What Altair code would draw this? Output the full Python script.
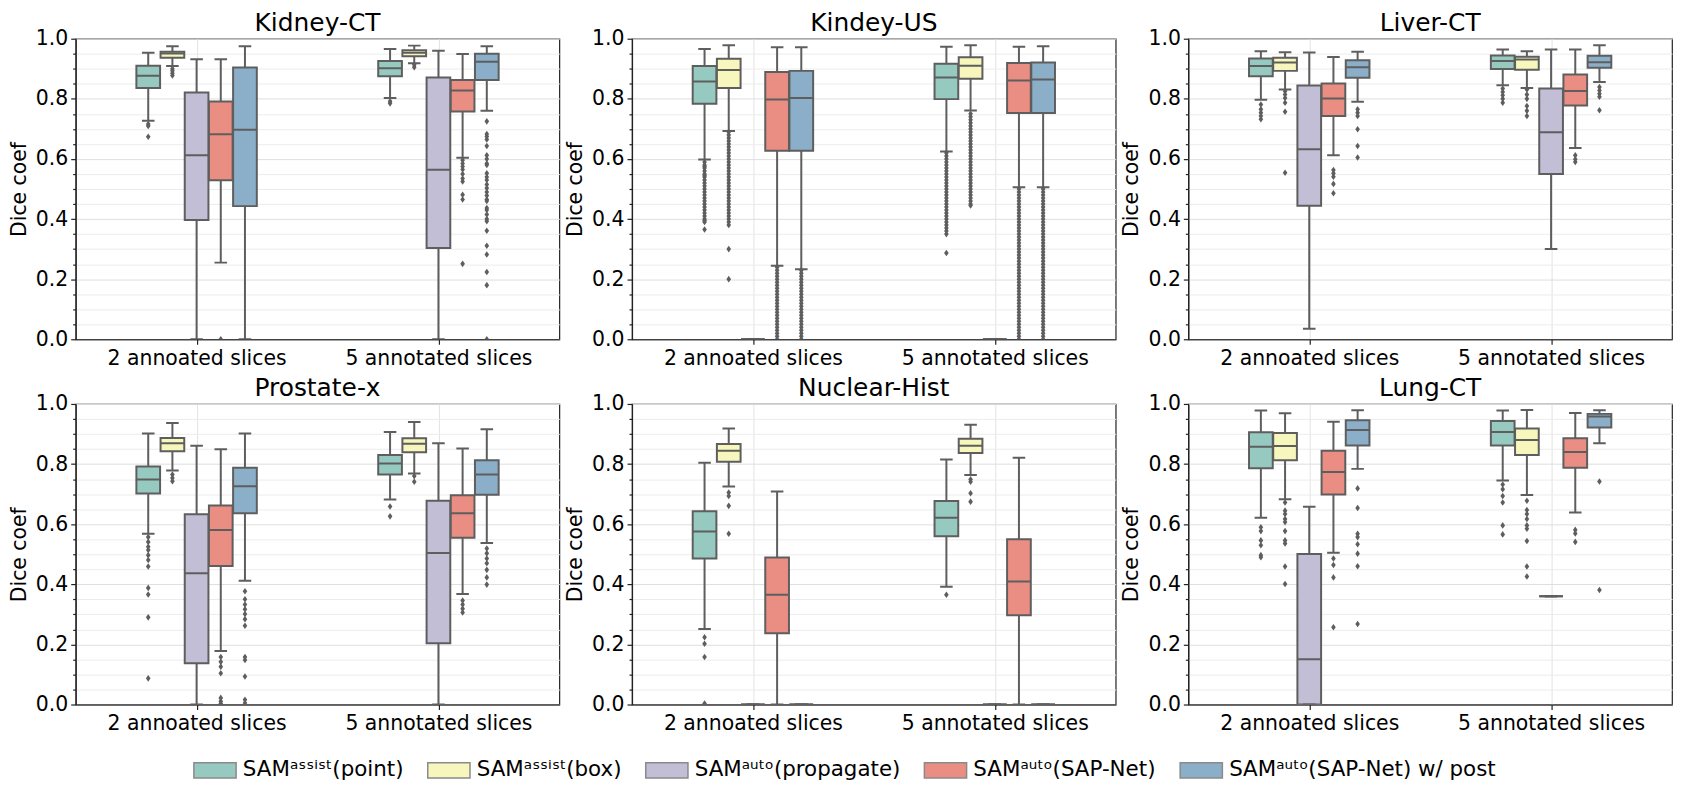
import altair as alt
import pandas as pd

# ---------------- data ----------------
DATASETS = ["Kidney-CT", "Kindey-US", "Liver-CT", "Prostate-x", "Nuclear-Hist", "Lung-CT"]
GROUPS = ["2 annoated slices", "5 annotated slices"]
METHODS = ["SAMᵃˢˢⁱˢᵗ(point)", "SAMᵃˢˢⁱˢᵗ(box)", "SAMᵃᵘᵗᵒ(propagate)",
           "SAMᵃᵘᵗᵒ(SAP-Net)", "SAMᵃᵘᵗᵒ(SAP-Net) w/ post"]
COLORS = ["#96cac1", "#f6f6bd", "#c1bed6", "#ea8e83", "#8bafc9"]

# (lower whisker, q1, median, q3, upper whisker): group 0 methods 0..4, then group 1 methods 0..4
KIDNEY_CT_STATS = [
    (0.727, 0.836, 0.877, 0.910, 0.953),
    (0.909, 0.937, 0.951, 0.957, 0.975),
    (0.0, 0.397, 0.612, 0.821, 0.932),
    (0.255, 0.529, 0.682, 0.791, 0.932),
    (0.0, 0.443, 0.697, 0.904, 0.975),
    (0.803, 0.875, 0.902, 0.926, 0.966),
    (0.918, 0.942, 0.953, 0.962, 0.977),
    (0.0, 0.304, 0.564, 0.871, 0.960),
    (0.604, 0.758, 0.828, 0.863, 0.949),
    (0.760, 0.863, 0.923, 0.950, 0.975),
]
KIDNEY_CT_OUT = [
    [0.716, 0.71, 0.674],
    [0.90, 0.893, 0.885, 0.878],
    [],
    [0.0],
    [],
    [0.792, 0.785],
    [0.913, 0.905],
    [],
    [0.596, 0.585, 0.575, 0.565, 0.55, 0.535, 0.525, 0.481, 0.465, 0.251],
    [0.725, 0.683, 0.675, 0.665, 0.643, 0.612, 0.60, 0.585, 0.58, 0.552, 0.54, 0.53, 0.515,
     0.503, 0.49, 0.478, 0.465, 0.46, 0.437, 0.43, 0.415, 0.40, 0.393, 0.361, 0.311, 0.282,
     0.224, 0.18, 0.0],
]

KINDEY_US_STATS = [
    (0.598, 0.784, 0.858, 0.909, 0.966),
    (0.693, 0.836, 0.896, 0.933, 0.978),
    (0.0, 0.0, 0.0, 0.0, 0.0),
    (0.245, 0.627, 0.798, 0.889, 0.972),
    (0.233, 0.627, 0.803, 0.893, 0.972),
    (0.625, 0.799, 0.871, 0.917, 0.973),
    (0.761, 0.867, 0.910, 0.938, 0.978),
    (0.0, 0.0, 0.0, 0.0, 0.0),
    (0.506, 0.753, 0.861, 0.919, 0.973),
    (0.506, 0.753, 0.864, 0.921, 0.975),
]
KINDEY_US_OUT = [
    [0.59, 0.58, 0.575, 0.57, 0.56, 0.55, 0.545, 0.54, 0.53, 0.52, 0.51, 0.50, 0.49, 0.48,
     0.47, 0.46, 0.45, 0.44, 0.43, 0.42, 0.41, 0.40, 0.395, 0.39, 0.365],
    [0.69, 0.68, 0.67, 0.66, 0.65, 0.64, 0.63, 0.62, 0.61, 0.60, 0.59, 0.58, 0.57, 0.56,
     0.55, 0.54, 0.53, 0.52, 0.51, 0.50, 0.49, 0.48, 0.47, 0.46, 0.45, 0.44, 0.43, 0.42,
     0.41, 0.40, 0.39, 0.38, 0.30, 0.20],
    [],
    [0.24, 0.23, 0.22, 0.21, 0.20, 0.19, 0.18, 0.17, 0.16, 0.15, 0.14, 0.13, 0.12, 0.11,
     0.10, 0.09, 0.08, 0.07, 0.06, 0.05, 0.04, 0.03, 0.02, 0.01, 0.0],
    [0.23, 0.22, 0.21, 0.20, 0.19, 0.18, 0.17, 0.16, 0.15, 0.14, 0.13, 0.12, 0.11, 0.10,
     0.09, 0.08, 0.07, 0.06, 0.05, 0.04, 0.03, 0.02, 0.01, 0.0],
    [0.62, 0.61, 0.60, 0.59, 0.58, 0.57, 0.56, 0.55, 0.54, 0.53, 0.52, 0.51, 0.50, 0.49,
     0.48, 0.47, 0.46, 0.45, 0.44, 0.43, 0.42, 0.41, 0.40, 0.39, 0.38, 0.37, 0.36, 0.35,
     0.287],
    [0.75, 0.74, 0.73, 0.72, 0.71, 0.70, 0.69, 0.68, 0.67, 0.66, 0.65, 0.64, 0.63, 0.62,
     0.61, 0.60, 0.59, 0.58, 0.57, 0.56, 0.55, 0.54, 0.53, 0.52, 0.51, 0.50, 0.49, 0.48,
     0.47, 0.46, 0.45, 0.445],
    [],
    [0.50, 0.49, 0.48, 0.47, 0.46, 0.45, 0.44, 0.43, 0.42, 0.41, 0.40, 0.39, 0.38, 0.37,
     0.36, 0.35, 0.34, 0.33, 0.32, 0.31, 0.30, 0.29, 0.28, 0.27, 0.26, 0.25, 0.24, 0.23,
     0.22, 0.21, 0.20, 0.19, 0.18, 0.17, 0.16, 0.15, 0.14, 0.13, 0.12, 0.11, 0.10, 0.09,
     0.08, 0.07, 0.06, 0.05, 0.04, 0.03, 0.02, 0.01, 0.0],
    [0.50, 0.49, 0.48, 0.47, 0.46, 0.45, 0.44, 0.43, 0.42, 0.41, 0.40, 0.39, 0.38, 0.37,
     0.36, 0.35, 0.34, 0.33, 0.32, 0.31, 0.30, 0.29, 0.28, 0.27, 0.26, 0.25, 0.24, 0.23,
     0.22, 0.21, 0.20, 0.19, 0.18, 0.17, 0.16, 0.15, 0.14, 0.13, 0.12, 0.11, 0.10, 0.09,
     0.08, 0.07, 0.06, 0.05, 0.04, 0.03, 0.02, 0.01, 0.0],
]

LIVER_CT_STATS = [
    (0.797, 0.875, 0.909, 0.934, 0.958),
    (0.831, 0.893, 0.921, 0.937, 0.955),
    (0.035, 0.444, 0.632, 0.844, 0.954),
    (0.612, 0.743, 0.801, 0.851, 0.939),
    (0.790, 0.870, 0.905, 0.928, 0.957),
    (0.845, 0.899, 0.926, 0.944, 0.964),
    (0.836, 0.897, 0.931, 0.940, 0.958),
    (0.300, 0.550, 0.689, 0.834, 0.964),
    (0.636, 0.778, 0.826, 0.881, 0.964),
    (0.856, 0.903, 0.922, 0.943, 0.978),
]
LIVER_CT_OUT = [
    [0.781, 0.765, 0.754, 0.743, 0.732],
    [0.825, 0.814, 0.803, 0.787, 0.757, 0.554],
    [],
    [0.563, 0.552, 0.541, 0.517, 0.486],
    [0.765, 0.754, 0.743, 0.699, 0.643, 0.605],
    [0.834, 0.823, 0.812, 0.80, 0.787],
    [0.831, 0.814, 0.80, 0.776, 0.76, 0.743],
    [],
    [0.612, 0.599, 0.59],
    [0.839, 0.828, 0.817, 0.807, 0.762],
]

PROSTATE_X_STATS = [
    (0.568, 0.702, 0.749, 0.792, 0.902),
    (0.779, 0.843, 0.869, 0.887, 0.937),
    (0.0, 0.137, 0.437, 0.633, 0.861),
    (0.178, 0.461, 0.581, 0.662, 0.849),
    (0.412, 0.636, 0.726, 0.788, 0.902),
    (0.682, 0.765, 0.802, 0.830, 0.907),
    (0.769, 0.839, 0.868, 0.886, 0.940),
    (0.0, 0.204, 0.504, 0.678, 0.869),
    (0.368, 0.555, 0.636, 0.696, 0.852),
    (0.537, 0.698, 0.765, 0.813, 0.916),
]
PROSTATE_X_OUT = [
    [0.557, 0.541, 0.525, 0.514, 0.497, 0.481, 0.459, 0.388, 0.366, 0.29, 0.087],
    [0.765, 0.754, 0.743],
    [],
    [0.158, 0.142, 0.126, 0.104, 0.022, 0.011, 0.003],
    [0.377, 0.35, 0.333, 0.317, 0.301, 0.284, 0.262, 0.158, 0.148, 0.093, 0.016, 0.005],
    [0.659, 0.626],
    [0.76, 0.741],
    [],
    [0.346, 0.333, 0.319, 0.306],
    [0.519, 0.503, 0.486, 0.47, 0.448, 0.423, 0.399],
]

NUCLEAR_HIST_STATS = [
    (0.251, 0.486, 0.576, 0.643, 0.804),
    (0.725, 0.808, 0.844, 0.867, 0.918),
    (0.0, 0.0, 0.0, 0.0, 0.0),
    (0.0, 0.237, 0.365, 0.489, 0.709),
    (0.0, 0.0, 0.0, 0.0, 0.0),
    (0.392, 0.560, 0.621, 0.677, 0.815),
    (0.764, 0.837, 0.861, 0.884, 0.931),
    (0.0, 0.0, 0.0, 0.0, 0.0),
    (0.0, 0.297, 0.409, 0.550, 0.821),
    (0.0, 0.0, 0.0, 0.0, 0.0),
]
NUCLEAR_HIST_OUT = [
    [0.224, 0.202, 0.158, 0.003],
    [0.705, 0.694, 0.661, 0.568],
    [], [], [],
    [0.365],
    [0.749, 0.741, 0.703, 0.675],
    [], [], [],
]

LUNG_CT_STATS = [
    (0.621, 0.786, 0.858, 0.906, 0.978),
    (0.683, 0.813, 0.860, 0.903, 0.969),
    (0.0, 0.0, 0.151, 0.501, 0.658),
    (0.505, 0.699, 0.774, 0.844, 0.941),
    (0.784, 0.862, 0.913, 0.946, 0.979),
    (0.745, 0.862, 0.907, 0.943, 0.978),
    (0.697, 0.830, 0.880, 0.918, 0.980),
    (0.36, 0.36, 0.36, 0.36, 0.36),
    (0.639, 0.788, 0.840, 0.886, 0.970),
    (0.869, 0.922, 0.958, 0.967, 0.979),
]
LUNG_CT_OUT = [
    [0.59, 0.577, 0.546, 0.53, 0.497, 0.49],
    [0.672, 0.645, 0.634, 0.617, 0.607, 0.577, 0.546, 0.536, 0.459, 0.401],
    [],
    [0.486, 0.464, 0.423, 0.257],
    [0.719, 0.654, 0.568, 0.557, 0.533, 0.502, 0.46, 0.268],
    [0.732, 0.716, 0.694, 0.672, 0.596, 0.566],
    [0.678, 0.647, 0.634, 0.617, 0.596, 0.585, 0.544, 0.459, 0.426],
    [],
    [0.581, 0.569, 0.541],
    [0.742, 0.381],
]

ALL_STATS = [KIDNEY_CT_STATS, KINDEY_US_STATS, LIVER_CT_STATS,
             PROSTATE_X_STATS, NUCLEAR_HIST_STATS, LUNG_CT_STATS]
ALL_OUT = [KIDNEY_CT_OUT, KINDEY_US_OUT, LIVER_CT_OUT,
           PROSTATE_X_OUT, NUCLEAR_HIST_OUT, LUNG_CT_OUT]

# ---------------- style ----------------
FONT = "DejaVu Sans"
GRAY = "#5e5e5e"
EDGE = "#222222"
PW, PH = 486, 302
DODGE = 0.1
HALF_BOX = 0.049
HALF_CAP = 0.026
DIAMOND = "M0,-1L0.7,0L0,1L-0.7,0Z"
RECT = "M-1,-0.36L1,-0.36L1,0.36L-1,0.36Z"
MAJOR = "abs(datum.value*5 - round(datum.value*5)) < 0.0001"

xscale = alt.Scale(domain=[-0.5, 1.5], nice=False, zero=False)
yscale = alt.Scale(domain=[0, 1], nice=False, zero=False)
xaxis = alt.Axis(values=[0, 1], title=None, labelFlush=False, labelOverlap=False, labelLimit=500,
                 labelExpr=f"datum.value < 0.5 ? '{GROUPS[0]}' : '{GROUPS[1]}'",
                 grid=True, gridColor="#e3e3e3", tickSize=5, labelPadding=4)
yaxis = alt.Axis(values=[i / 20 for i in range(21)], title="Dice coef",
                 labelExpr=f"{MAJOR} ? format(datum.value, '.1f') : ''",
                 grid=True,
                 gridColor={"condition": {"test": MAJOR, "value": "#dedede"}, "value": "#ececec"},
                 tickSize={"condition": {"test": MAJOR, "value": 5}, "value": 3},
                 labelPadding=3, titlePadding=6, labelFlush=False, labelOverlap=False)

legend = alt.Legend(title=None, orient="none", legendX=118, legendY=713,
                    direction="horizontal", columns=5, symbolType=RECT, symbolSize=1800,
                    symbolStrokeColor="#8a8a8a", symbolStrokeWidth=1.5, symbolOpacity=1,
                    labelFontSize=21.5, labelFont=FONT, labelColor="black",
                    columnPadding=20, labelOffset=6, labelLimit=400)


def panel(idx):
    rows = []
    orow = []
    for k, st in enumerate(ALL_STATS[idx]):
        g, m = divmod(k, 5)
        rows.append(dict(g=g, m=m, method=METHODS[m], lo=st[0], q1=st[1], med=st[2], q3=st[3], hi=st[4]))
        for v in ALL_OUT[idx][k]:
            orow.append(dict(g=g, m=m, v=v))
    bdf = pd.DataFrame(rows)
    odf = pd.DataFrame(orow if orow else [dict(g=0, m=0, v=-1.0)])

    base = alt.Chart(bdf).transform_calculate(
        xc=f"datum.g + (datum.m - 2) * {DODGE}",
    ).transform_calculate(
        xl=f"datum.xc - {HALF_BOX}", xr=f"datum.xc + {HALF_BOX}",
        cl=f"datum.xc - {HALF_CAP}", cr=f"datum.xc + {HALF_CAP}",
    )
    X = lambda f: alt.X(f, type="quantitative", scale=xscale, axis=xaxis)
    Y = lambda f: alt.Y(f, type="quantitative", scale=yscale, axis=yaxis)

    whisk = base.mark_rule(color=GRAY, strokeWidth=2, clip=True).encode(
        x=X("xc"), y=Y("lo"), y2="hi")
    boxes = base.mark_rect(stroke=GRAY, strokeWidth=2, clip=True, opacity=1).encode(
        x=X("xl"), x2="xr", y=Y("q1"), y2="q3",
        fill=alt.Fill("method:N", scale=alt.Scale(domain=METHODS, range=COLORS), legend=legend))
    med = base.mark_rule(color=GRAY, strokeWidth=2, clip=True).encode(
        x=X("xl"), x2="xr", y=Y("med"))
    cap_lo = base.mark_rule(color=GRAY, strokeWidth=2, clip=True).encode(
        x=X("cl"), x2="cr", y=Y("lo"))
    cap_hi = base.mark_rule(color=GRAY, strokeWidth=2, clip=True).encode(
        x=X("cl"), x2="cr", y=Y("hi"))
    pts = alt.Chart(odf).transform_calculate(
        xc=f"datum.g + (datum.m - 2) * {DODGE}"
    ).mark_point(shape=DIAMOND, filled=True, color=GRAY, size=44, opacity=1, clip=True).encode(
        x=X("xc"), y=Y("v"))
    return alt.layer(whisk, boxes, med, cap_lo, cap_hi, pts).properties(
        width=PW, height=PH, title=DATASETS[idx])


row1 = alt.hconcat(panel(0), panel(1), panel(2), spacing=4)
row2 = alt.hconcat(panel(3), panel(4), panel(5), spacing=4)
chart = alt.vconcat(row1, row2, spacing=5).properties(
    padding={"left": 0, "top": 0, "right": 0, "bottom": 0}
).configure_view(
    stroke=EDGE, strokeWidth=1.2
).configure_axis(
    labelFont=FONT, titleFont=FONT, labelFontSize=20.5, titleFontSize=20.5,
    labelColor="black", titleColor="black", titleFontWeight="normal",
    domainColor=EDGE, domainWidth=1.2, tickColor=EDGE, tickWidth=1.2, gridWidth=1
).configure_title(
    font=FONT, fontSize=25, fontWeight="normal", color="black", offset=-7, anchor="middle"
)

chart.save("out.html", embed_options={"renderer": "svg", "actions": False})
